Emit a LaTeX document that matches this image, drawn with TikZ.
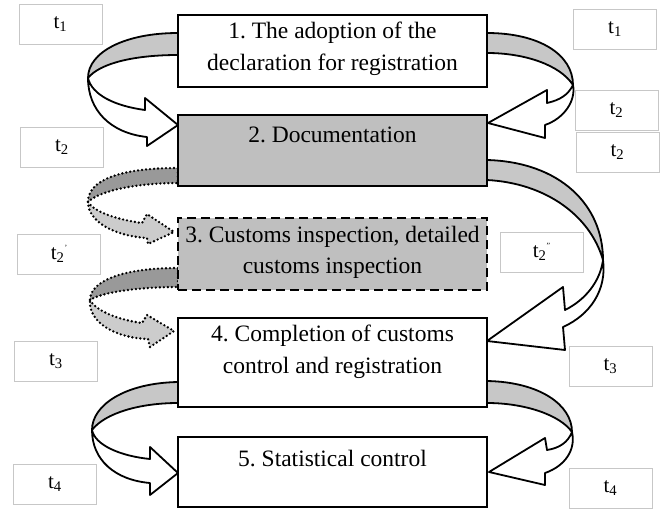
\documentclass[tikz,border=0pt]{standalone}
\usepackage{fontspec}
\setmainfont{Liberation Serif}
\begin{document}
\begin{tikzpicture}[x=1pt,y=-1pt,
  bigbox/.style={draw=black, line width=2.2pt, minimum width=309pt, inner sep=0pt},
  boxtext/.style={align=center, inner sep=0pt, font=\fontsize{23.5}{31.5}\selectfont\frenchspacing},
  tbox/.style={draw=black!22, line width=1pt, minimum width=83pt, minimum height=40pt, inner sep=0pt, font=\fontsize{21}{24}\selectfont},
  ribbon/.style={draw=black, line width=1.8pt, line join=round},
  dotrib/.style={draw=black, line width=2.6pt, dash pattern=on 0pt off 4pt, line cap=round, line join=round},
  backgray/.style={fill=black!22},
  dotback/.style={fill=black!40},
  dotfront/.style={fill=black!20}
]
\useasboundingbox (0,0) rectangle (664,509);

% ---- curved arrows (drawn behind the boxes) ----
% A: 1 -> 2 left
\path[ribbon,backgray] (178,33) .. controls (125,33) and (88,52) .. (88,78)
  .. controls (100,63) and (135,55) .. (178,55) -- cycle;
\path[ribbon,fill=white] (88,78) .. controls (92,95) and (115,106) .. (145,110)
  -- (145,98) -- (178,125) -- (147,146) -- (147,137)
  .. controls (110,133) and (88,110) .. (88,78) -- cycle;
% B: 1 -> 2 right
\path[ribbon,backgray] (487,33) .. controls (540,33) and (573,55) .. (573,85)
  .. controls (560,65) and (525,53) .. (487,53) -- cycle;
\path[ribbon,fill=white] (573,85) .. controls (568,95) and (560,100) .. (547,103)
  -- (547,90) -- (488,123) -- (545,138) -- (545,125)
  .. controls (565,118) and (576,100) .. (573,85) -- cycle;
% C: 2 -> 4 right
\path[ribbon,backgray] (487,160) .. controls (560,162) and (603,205) .. (603,260)
  .. controls (590,215) and (545,183) .. (487,180) -- cycle;
\path[ribbon,fill=white] (603,260) .. controls (600,282) and (585,300) .. (565,310)
  -- (563,287) -- (487,341) -- (565,350) -- (563,327)
  .. controls (590,315) and (607,290) .. (603,260) -- cycle;
% D1: 2 -> 3 dotted
\path[dotrib,dotback] (178,168) .. controls (120,168) and (88,180) .. (88,202)
  .. controls (100,190) and (140,183) .. (178,183) -- cycle;
\path[dotrib,dotfront] (88,202) .. controls (95,213) and (120,220) .. (142,223)
  -- (147,214) -- (174,232) -- (148,244) -- (147,238)
  .. controls (115,236) and (88,222) .. (88,202) -- cycle;
% D2: 3 -> 4 dotted
\path[dotrib,dotback] (178,268) .. controls (120,268) and (90,282) .. (90,300)
  .. controls (102,292) and (140,287) .. (178,287) -- cycle;
\path[dotrib,dotfront] (90,300) .. controls (97,312) and (120,320) .. (142,323)
  -- (147,315) -- (174,331) -- (150,347) -- (148,339)
  .. controls (115,338) and (88,322) .. (90,300) -- cycle;
% E: 4 -> 5 left
\path[ribbon,backgray] (178,382) .. controls (125,383) and (92,405) .. (92,430)
  .. controls (105,413) and (140,403) .. (178,403) -- cycle;
\path[ribbon,fill=white] (92,430) .. controls (95,445) and (120,456) .. (150,459)
  -- (150,447) -- (178,473) -- (150,495) -- (150,483)
  .. controls (115,480) and (92,460) .. (92,430) -- cycle;
% F: 4 -> 5 right
\path[ribbon,backgray] (487,381) .. controls (540,382) and (572,405) .. (572,432)
  .. controls (560,415) and (525,403) .. (487,403) -- cycle;
\path[ribbon,fill=white] (572,432) .. controls (568,442) and (560,448) .. (547,450)
  -- (545,438) -- (489,472) -- (545,485) -- (545,473)
  .. controls (565,466) and (576,450) .. (572,432) -- cycle;

% ---- main boxes ----
\node[bigbox, fill=white, minimum height=72pt] (b1) at (332.5,51) {};
\node[bigbox, fill=black!25, minimum height=71pt] (b2) at (332.5,150.5) {};
\node[bigbox, fill=black!25, dash pattern=on 9pt off 5pt, line width=2.6pt, minimum height=72pt] (b3) at (332.5,254) {};
\node[bigbox, fill=white, minimum height=89pt] (b4) at (332.5,362.5) {};
\node[bigbox, fill=white, minimum height=70pt] (b5) at (332.5,472) {};

\node[boxtext] (l1) at (332.5,49) {1. The adoption of the\\declaration for registration};
\node[boxtext] (l2) at (332.5,135) {2. Documentation};
\node[boxtext] (l3) at (332.5,252.5) {3. Customs inspection, detailed\\customs inspection};
\node[boxtext] (l4) at (332.5,352) {4. Completion of customs\\control and registration};
\node[boxtext] (l5) at (332.5,459) {5. Statistical control};

% ---- time labels ----
\node[tbox] (tl1) at (60.5,24) {t\textsubscript{1}};
\node[tbox] (tl2) at (62,147) {t\textsubscript{2}};
\node[tbox] (tl2p) at (59,254) {t\textsubscript{2}\raisebox{0.9ex}{\footnotesize '}};
\node[tbox] (tl3) at (56,361) {t\textsubscript{3}};
\node[tbox] (tl4) at (55,484) {t\textsubscript{4}};
\node[tbox] (tr1) at (615,29.5) {t\textsubscript{1}};
\node[tbox] (tr2a) at (616.5,110.5) {t\textsubscript{2}};
\node[tbox] (tr2b) at (617.5,152.5) {t\textsubscript{2}};
\node[tbox] (tr2pp) at (541.5,252) {t\textsubscript{2}\raisebox{0.9ex}{\footnotesize ''}};
\node[tbox] (tr3) at (610.5,366.5) {t\textsubscript{3}};
\node[tbox] (tr4) at (610.5,488.5) {t\textsubscript{4}};
\end{tikzpicture}
\end{document}
